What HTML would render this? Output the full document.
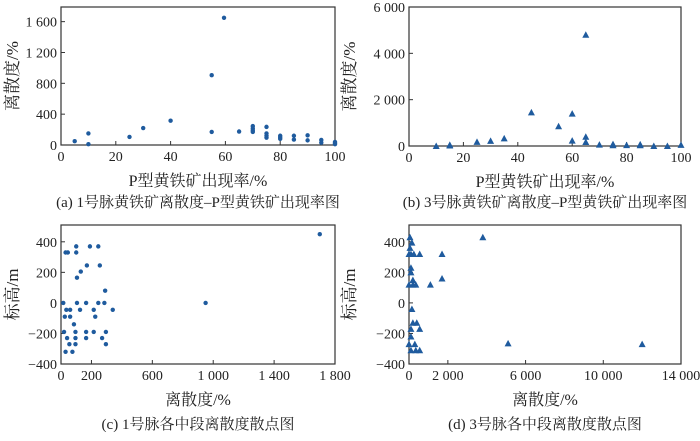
<!DOCTYPE html>
<html><head><meta charset="utf-8"><style>
html,body{margin:0;padding:0;background:#fff}
svg text{font-family:"Liberation Serif","Noto Serif CJK SC",serif;fill:#222}
</style></head><body>
<svg id="s" width="700" height="436" xmlns="http://www.w3.org/2000/svg"></svg>
<script>
const s=document.getElementById('s');let h='';
const C='#1f5b9e';
function panel(o){
 const {x0,x1,y0,y1,xmin,xmax,ymin,ymax,xt,yt,xl,yl,xtitle,ytitle,cap,capy,pts,tri,lab}=o;
 const X=v=>x0+(v-xmin)/(xmax-xmin)*(x1-x0), Y=v=>y1-(v-ymin)/(ymax-ymin)*(y1-y0);
 h+=`<rect x="${x0}" y="${y0}" width="${x1-x0}" height="${y1-y0}" fill="none" stroke="#333" stroke-width="1.2"/>`;
 xt.forEach((v,i)=>{const px=X(v);h+=`<line x1="${px}" y1="${y1}" x2="${px}" y2="${y1-4}" stroke="#333"/><text x="${px}" y="${y1+16}" font-size="14" text-anchor="middle">${xl[i]}</text>`;});
 yt.forEach((v,i)=>{const py=Y(v);h+=`<line x1="${x0}" y1="${py}" x2="${x0+4}" y2="${py}" stroke="#333"/><text x="${x0-4}" y="${py+5}" font-size="14" text-anchor="end">${yl[i]}</text>`;});
 h+=`<text x="${(x0+x1)/2}" y="${y1+41}" font-size="16" text-anchor="middle">${xtitle}</text>`;
 h+=`<text x="${(x0+x1)/2}" y="${capy}" font-size="15" text-anchor="middle">${cap}</text>`;
 const ly=(y0+y1)/2;h+=`<text transform="translate(${lab},${ly}) rotate(-90)" font-size="17" text-anchor="middle">${ytitle}</text>`;
 pts.forEach(p=>{const px=X(p[0]),py=Y(p[1]);
  if(tri)h+=`<polygon points="${px-3.5},${py+3} ${px+3.5},${py+3} ${px},${py-3.5}" fill="${C}"/>`;
  else h+=`<circle cx="${px}" cy="${py}" r="2.2" fill="${C}"/>`;});
}
panel({x0:61,x1:335,y0:7,y1:145,xmin:0,xmax:100,ymin:0,ymax:1790,xt:[0,20,40,60,80,100],xl:['0','20','40','60','80','100'],
 yt:[0,400,800,1200,1600],yl:['0','400','800','1 200','1 600'],xtitle:'P型黄铁矿出现率/%',ytitle:'离散度/%',cap:'(a) 1号脉黄铁矿离散度–P型黄铁矿出现率图',capy:207,lab:18,
 pts:[[5,50],[10,150],[10,10],[25,105],[30,220],[40,315],[55,905],[55,170],[59.5,1650],[65,175],[70,245],[70,215],[70,190],[70,170],[75,235],[75,150],[75,120],[75,95],[80,120],[80,100],[80,80],[85,120],[85,70],[90,125],[90,60],[95,65],[95,30],[100,40],[100,25],[100,10]]});
panel({x0:409,x1:681,y0:7,y1:146,xmin:0,xmax:100,ymin:0,ymax:6000,xt:[0,20,40,60,80,100],xl:['0','20','40','60','80','100'],
 yt:[0,2000,4000,6000],yl:['0','2 000','4 000','6 000'],xtitle:'P型黄铁矿出现率/%',ytitle:'离散度/%',cap:'(b) 3号脉黄铁矿离散度–P型黄铁矿出现率图',capy:207,lab:355,tri:1,
 pts:[[10,0],[15,50],[15,20],[25,180],[30,220],[35,330],[45,1450],[55,850],[60,1400],[60,230],[65,4800],[65,400],[65,170],[70,60],[75,80],[75,30],[80,40],[85,70],[85,30],[90,0],[95,0],[100,50]]});
panel({x0:61,x1:335,y0:225,y1:364,xmin:0,xmax:1800,ymin:-400,ymax:510,xt:[0,200,600,1000,1400,1800],xl:['0','200','600','1 000','1 400','1 800'],
 yt:[-400,-200,0,200,400],yl:['−400','−200','0','200','400'],xtitle:'离散度/%',ytitle:'标高/m',cap:'(c) 1号脉各中段离散度散点图',capy:429,lab:18,
 pts:[[30,330],[45,330],[100,370],[100,330],[190,370],[245,370],[170,245],[255,245],[130,205],[105,165],[290,80],[15,0],[105,0],[165,0],[245,0],[285,0],[950,0],[1700,450],[35,-45],[60,-45],[125,-45],[215,-45],[340,-45],[25,-90],[60,-90],[225,-90],[85,-140],[20,-190],[95,-190],[165,-190],[215,-190],[295,-190],[40,-230],[95,-230],[165,-230],[270,-230],[55,-270],[95,-270],[295,-270],[30,-320],[75,-320]]});
panel({x0:409,x1:681,y0:225,y1:364,xmin:0,xmax:14000,ymin:-400,ymax:510,xt:[0,2000,6000,10000,14000],xl:['0','2 000','6 000','10 000','14 000'],
 yt:[-400,-200,0,200,400],yl:['−400','−200','0','200','400'],xtitle:'离散度/%',ytitle:'标高/m',cap:'(d) 3号脉各中段离散度散点图',capy:429,lab:355,tri:1,
 pts:[[50,430],[150,395],[50,360],[0,320],[100,320],[250,320],[550,320],[1700,320],[100,230],[100,200],[200,150],[200,120],[0,120],[350,120],[1100,120],[1700,160],[3800,430],[150,-40],[200,-130],[400,-130],[550,-170],[100,-170],[100,-220],[0,-270],[300,-270],[5100,-265],[12000,-270],[100,-310],[350,-310],[550,-310]]});
s.innerHTML=h;
</script>
</body></html>
